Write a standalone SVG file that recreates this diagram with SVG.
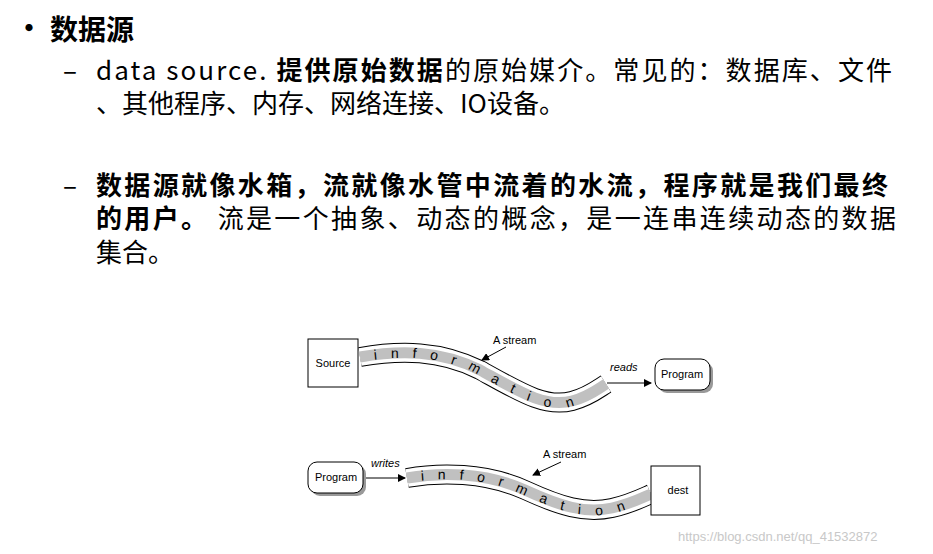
<svg xmlns="http://www.w3.org/2000/svg" width="933" height="554" viewBox="0 0 933 554">
<style>
.h{font-family:"Noto Sans CJK SC","Liberation Sans",sans-serif;fill:#000}
.d{font-family:"Liberation Sans",Arial,sans-serif;font-size:11px;fill:#000}
.l{font-family:"Liberation Sans",Arial,sans-serif;font-size:14px;fill:#000;letter-spacing:14px}
.box{fill:#fff;stroke:#000;stroke-width:1}
.sh{fill:#999}
.o{fill:none;stroke:#000;stroke-width:20}
.w{fill:none;stroke:#fff;stroke-width:18}
.g{fill:none;stroke:#c0c0c0;stroke-width:11}
.ar{stroke:#000;stroke-width:1;fill:none;marker-end:url(#a)}
</style>
<defs>
<marker id="a" markerWidth="8" markerHeight="8" refX="7" refY="4" orient="auto" markerUnits="userSpaceOnUse"><path d="M0,0 L8,4 L0,8 z" fill="#000"/></marker>
<path id="s1" d="M360,357 C400,350 440,350 480,370 C520,392 545,408 572,401 C588,397 598,389 606,384"/>
<path id="s2" d="M407,478 C440,472 485,472 525,490 C560,506 585,514 612,508 C630,504 642,498 651,494"/>
</defs>
<text class="h" x="12" y="41" font-size="34">•</text>
<text class="h" x="50" y="40" font-size="28" font-weight="bold">数据源</text>
<text class="h" x="63" y="80" font-size="26">–</text>
<text class="h" x="96" y="80" font-size="26" textLength="796" lengthAdjust="spacing">data source. <tspan font-weight="bold">提供原始数据</tspan>的原始媒介。常见的：数据库、文件</text>
<text class="h" x="96" y="113" font-size="26">、其他程序、内存、网络连接、IO设备。</text>
<text class="h" x="63" y="195" font-size="26">–</text>
<text class="h" x="96" y="195" font-size="26" font-weight="bold" textLength="792" lengthAdjust="spacing">数据源就像水箱，流就像水管中流着的水流，程序就是我们最终</text>
<text class="h" x="96" y="228" font-size="26" textLength="800" lengthAdjust="spacing"><tspan font-weight="bold">的用户。</tspan> 流是一个抽象、动态的概念，是一连串连续动态的数据</text>
<text class="h" x="96" y="262" font-size="26">集合。</text>

<g id="connectors">
<use href="#s1" class="o"/><use href="#s1" class="w"/><use href="#s1" class="g"/>
<use href="#s2" class="o"/><use href="#s2" class="w"/><use href="#s2" class="g"/>
<path class="ar" d="M506,347 L482,360"/>
<path class="ar" d="M607,383 L651,383"/>
<path class="ar" d="M363,478 L405,478"/>
<path class="ar" d="M561,462 L533,475"/>
</g>
<g id="stream1-text"><text class="l" dy="5"><textPath href="#s1" startOffset="14">information</textPath></text></g>
<g id="stream2-text"><text class="l" dy="5"><textPath href="#s2" startOffset="14">information</textPath></text></g>
<g id="source"><rect class="box" x="308" y="339" width="50" height="48"/><text class="d" x="333" y="367" text-anchor="middle">Source</text></g>
<g id="lbl1"><text class="d" x="493" y="344">A stream</text><text class="d" x="610" y="371" font-style="italic">reads</text></g>
<g id="program1"><rect class="sh" x="658" y="362" width="55" height="31" rx="9"/><rect class="box" x="655" y="359" width="55" height="31" rx="9"/><text class="d" x="682" y="378" text-anchor="middle">Program</text></g>
<g id="program2"><rect class="sh" x="311" y="465" width="55" height="31" rx="9"/><rect class="box" x="308" y="462" width="55" height="31" rx="9"/><text class="d" x="336" y="481" text-anchor="middle">Program</text></g>
<g id="lbl2"><text class="d" x="371" y="467" font-style="italic">writes</text><text class="d" x="543" y="458">A stream</text></g>
<g id="dest"><rect class="box" x="651" y="466" width="49" height="49"/><text class="d" x="678" y="494" text-anchor="middle">dest</text></g>
<text x="678" y="541" font-family="Liberation Sans,sans-serif" font-size="13" fill="#c8c8c8">https://blog.csdn.net/qq_41532872</text>
</svg>
